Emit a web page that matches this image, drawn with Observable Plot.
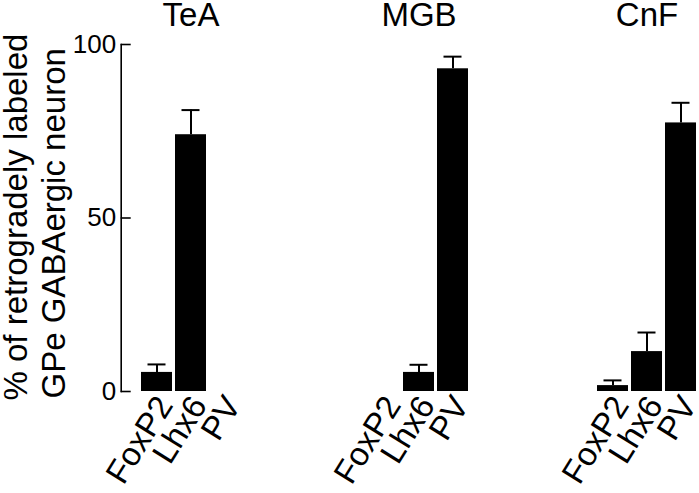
<!DOCTYPE html>
<html><head><meta charset="utf-8">
<script src="https://cdn.jsdelivr.net/npm/d3@7"></script>
<script src="https://cdn.jsdelivr.net/npm/@observablehq/plot@0.6"></script>
<style>body{margin:0;background:#fff}</style>
</head><body><div id="chart"></div>
<script>
const groups = ["TeA", "MGB", "CnF"];
const markers = ["FoxP2", "Lhx6", "PV"];
const meanTeA = [5.5, 74.0, 0];
const semTeA = [2.3, 7.1, 0];
const meanMGB = [0, 5.5, 93.0];
const semMGB = [0, 2.2, 3.5];
const meanCnF = [1.7, 11.5, 77.4];
const semCnF = [1.5, 5.5, 5.8];
const yTicks = [0, 50, 100];
const yLabelLine1 = "% of retrogradely labeled";
const yLabelLine2 = "GPe GABAergic neuron";

const means = [meanTeA, meanMGB, meanCnF];
const sems = [semTeA, semMGB, semCnF];
const data = groups.flatMap((g, i) => markers.map((m, j) => ({group: g, marker: m, mean: means[i][j], sem: sems[i][j]})));
const errData = data.filter(d => d.sem > 0);

const chart = Plot.plot({
  width: 699, height: 493,
  marginTop: 44, marginBottom: 102, marginLeft: 139, marginRight: 0,
  style: {fontFamily: "'Liberation Sans', Arial, sans-serif", background: "white", color: "black", overflow: "visible"},
  fx: {domain: groups, paddingInner: 0.547, paddingOuter: 0},
  x: {domain: markers, paddingInner: 0.1, paddingOuter: 0.05},
  y: {domain: [0, 100]},
  marks: [
    Plot.barY(data, {fx: "group", x: "marker", y: "mean", fill: "black"}),
    Plot.ruleX(errData, {fx: "group", x: "marker", y1: "mean", y2: d => d.mean + d.sem, stroke: "black", strokeWidth: 2}),
    Plot.tickY(errData, {fx: "group", x: "marker", y: d => d.mean + d.sem, stroke: "black", strokeWidth: 2, insetLeft: 6.5, insetRight: 6.5}),
    Plot.frame({anchor: "left", facetAnchor: "left", dx: -18.3, strokeWidth: 1.6}),
    Plot.axisY({ticks: yTicks, tickSize: -10, tickPadding: 15, dx: -18.3, fontSize: 26, label: null, strokeWidth: 1.6}),
    Plot.axisX({tickSize: 0, tickRotate: -58, fontSize: 33, label: null, tickPadding: 8, textAnchor: "end", dx: 8}),
    Plot.axisFx({anchor: "top", tickSize: 0, tickPadding: 19, fontSize: 33, label: null}),
    Plot.text([yLabelLine1], {frameAnchor: "bottom-left", facetAnchor: "left", rotate: -90, textAnchor: "start", lineAnchor: "bottom", fontSize: 33, dx: -113, dy: 9}),
    Plot.text([yLabelLine2], {frameAnchor: "bottom-left", facetAnchor: "left", rotate: -90, textAnchor: "start", lineAnchor: "bottom", fontSize: 33, dx: -75, dy: 7})
  ]
});
document.getElementById("chart").appendChild(chart);
</script>
</body></html>
